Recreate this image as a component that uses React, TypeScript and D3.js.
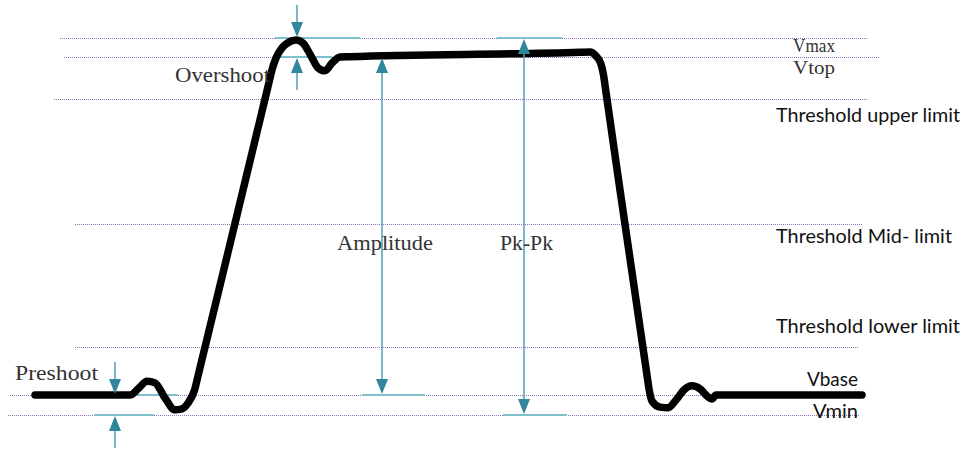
import React from 'react';
import * as d3 from 'd3';

const W = 963;
const H = 449;

// waveform samples: time (µs) and normalised voltage (Vbase = 0, Vtop = 1)
const waveT = [0.35, 1.2, 1.3, 1.38, 1.47, 1.55, 1.65, 1.75, 1.82, 1.88, 1.946, 1.982, 2.696, 2.72, 2.76, 2.82, 2.89, 2.96, 3.03, 3.11, 3.18, 3.25, 3.32, 3.4, 3.5, 5.8, 5.9, 5.96, 6.01, 6.035, 6.057, 6.477, 6.492, 6.52, 6.6, 6.68, 6.76, 6.84, 6.92, 7.0, 7.07, 7.12, 7.16, 7.25, 8.62];
const waveV = [0, 0, 0, 0.018, 0.041, 0.036, -0.009, -0.044, -0.041, -0.024, 0.015, 0.059, 0.932, 0.962, 0.997, 1.027, 1.044, 1.05, 1.041, 1.003, 0.968, 0.959, 0.982, 1.0, 1.001, 1.014, 1.015, 1.003, 0.979, 0.947, 0.902, 0.044, 0.015, -0.018, -0.036, -0.038, -0.015, 0.015, 0.027, 0.018, -0.003, -0.012, 0, 0, 0];

// reference levels
const levelNames = ['Vmax', 'Vtop', 'Threshold upper limit', 'Threshold Mid- limit', 'Threshold lower limit', 'Vbase', 'Vmin'];
const levelValues = [1.056, 1.0, 0.876, 0.506, 0.142, 0, -0.059];
const levelStart = [0.6, 0.64, 0.54, 0.75, 0.75, 0.1, 0.08];
const levelEnd = [8.68, 8.8, 8.68, 8.63, 8.58, 8.65, 8.6];

// measurements
const measureNames = ['Overshoot', 'Preshoot', 'Amplitude', 'Pk-Pk'];
const measureT = [2.97, 1.15, 3.82, 5.24];
const measureHigh = [1.056, 0, 1.0, 1.056];
const measureLow = [1.0, -0.059, 0, -0.059];
const measureInward = [true, true, false, false];

// short teal reference ticks at the measured levels
const tickLevel = [1.056, 1.0, 1.0, 0, 1.056, -0.059, 0, -0.059];
const tickStart = [2.75, 2.77, 3.6, 3.62, 4.97, 5.03, 0.95, 0.94];
const tickEnd = [3.6, 3.32, 4.25, 4.25, 5.62, 5.67, 1.78, 1.54];

const serif = "'Liberation Serif', 'DejaVu Serif', serif";
const sans = "Lato, 'Open Sans', sans-serif";

// label layout (px)
const levelLabelLayout = [
  { x: 793, y: 52, len: 42, size: 18, font: serif, color: '#333' },
  { x: 793, y: 74, len: 42, size: 18, font: serif, color: '#333' },
  { x: 776, y: 122, len: 184, size: 20, font: sans, color: '#111' },
  { x: 776, y: 243, len: 176, size: 20, font: sans, color: '#111' },
  { x: 776, y: 333, len: 184, size: 20, font: sans, color: '#111' },
  { x: 807, y: 386, len: 51, size: 19, font: sans, color: '#111' },
  { x: 813, y: 418, len: 45, size: 19, font: sans, color: '#111' },
];
const measureLabelLayout = [
  { x: 175, y: 82, len: 95, size: 22 },
  { x: 15, y: 380, len: 83, size: 20 },
  { x: 337, y: 250, len: 96, size: 22 },
  { x: 500, y: 250, len: 53, size: 22 },
];

const stemColor = '#4f9fb2';
const headColor = '#31859c';
const tickColor = '#7ec0ce';

function Head({ x, y, dir }: { x: number; y: number; dir: 1 | -1 }) {
  // dir = 1 points down (tip at y), dir = -1 points up
  const hw = 6;
  const hl = 15;
  const p = `M${x},${y} L${x - hw},${y - dir * hl} L${x + hw},${y - dir * hl} Z`;
  return <path d={p} fill={headColor} />;
}

export default function App() {
  const x = d3.scaleLinear().domain([0, 9.63]).range([0, W]);
  const y = d3.scaleLinear().domain([0, 1]).range([395, 57]);

  const pts = waveT.map((t, i) => [t, waveV[i]] as [number, number]);
  const line = d3
    .line<[number, number]>()
    .x(d => x(d[0]))
    .y(d => y(d[1]))
    .curve(d3.curveMonotoneX);

  const outer = 33; // stem length outside for inward arrows

  return (
    <svg width={W} height={H} style={{ position: 'absolute', left: 0, top: 0, background: '#fff' }}>
      {/* dotted level lines */}
      {levelValues.map((v, i) => (
        <line
          key={'lv' + i}
          x1={x(levelStart[i])}
          x2={x(levelEnd[i])}
          y1={Math.round(y(v)) + 0.5}
          y2={Math.round(y(v)) + 0.5}
          stroke="#8a74b8"
          strokeWidth={1}
          strokeDasharray="1,1"
        />
      ))}

      {/* teal level ticks */}
      {tickLevel.map((v, i) => (
        <line
          key={'tk' + i}
          x1={x(tickStart[i])}
          x2={x(tickEnd[i])}
          y1={y(v)}
          y2={y(v)}
          stroke={tickColor}
          strokeWidth={2}
        />
      ))}

      {/* waveform */}
      <path d={line(pts) || ''} fill="none" stroke="#000" strokeWidth={7.5} strokeLinecap="round" strokeLinejoin="round" />

      {/* measurement arrows */}
      {measureT.map((t, i) => {
        const cx = x(t);
        const yh = y(measureHigh[i]);
        const yl = y(measureLow[i]);
        if (measureInward[i]) {
          return (
            <g key={'m' + i}>
              <line x1={cx} x2={cx} y1={yh - outer} y2={yh - 10} stroke={stemColor} strokeWidth={1.5} />
              <Head x={cx} y={yh - 1} dir={1} />
              <line x1={cx} x2={cx} y1={yl + 10} y2={Math.min(yl + outer, H)} stroke={stemColor} strokeWidth={1.5} />
              <Head x={cx} y={yl + 1} dir={-1} />
            </g>
          );
        }
        return (
          <g key={'m' + i}>
            <line x1={cx} x2={cx} y1={yh + 10} y2={yl - 10} stroke={stemColor} strokeWidth={1.5} />
            <Head x={cx} y={yh + 1} dir={-1} />
            <Head x={cx} y={yl - 1} dir={1} />
          </g>
        );
      })}

      {/* level labels */}
      {levelNames.map((name, i) => {
        const l = levelLabelLayout[i];
        return (
          <text
            key={'ll' + i}
            x={l.x}
            y={l.y}
            fontFamily={l.font}
            fontSize={l.size}
            fill={l.color}
            textLength={l.len}
            lengthAdjust="spacingAndGlyphs"
          >
            {name}
          </text>
        );
      })}

      {/* measurement labels */}
      {measureNames.map((name, i) => {
        const l = measureLabelLayout[i];
        return (
          <text
            key={'ml' + i}
            x={l.x}
            y={l.y}
            fontFamily={serif}
            fontSize={l.size}
            fill="#333"
            textLength={l.len}
            lengthAdjust="spacingAndGlyphs"
          >
            {name}
          </text>
        );
      })}
    </svg>
  );
}
